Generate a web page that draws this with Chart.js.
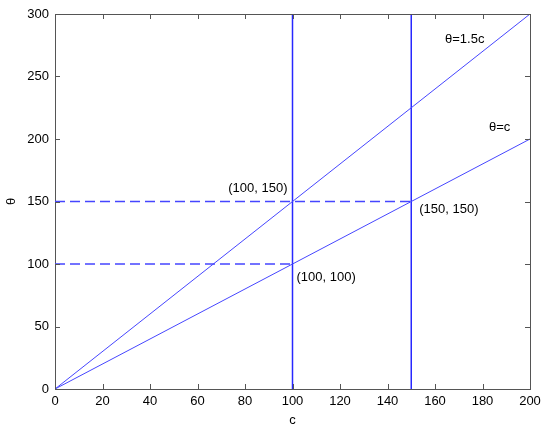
<!DOCTYPE html>
<html>
<head>
<meta charset="utf-8">
<script src="https://cdn.jsdelivr.net/npm/chart.js@4.4.0/dist/chart.umd.min.js"></script>
<style>
  body { margin: 0; background: #fff; }
  #wrap { width: 550px; height: 430px; }
</style>
</head>
<body>
<div id="wrap"><canvas id="myChart"></canvas></div>
<script>
// values
var cEnds = [0, 200];
var thetaEqC = [0, 200];
var thetaEq15C = [0, 300];
var verticalC = [100, 150];
var verticalRange = [0, 300];
var dashedTheta = [100, 150];
var dashedEnd = [100, 150];
var xTicks = [0, 20, 40, 60, 80, 100, 120, 140, 160, 180, 200];
var yTicks = [0, 50, 100, 150, 200, 250, 300];

// text labels: [text, c, theta, dx, dy, align]
var notes = [
    ['(100, 150)', 100, 150, -5, -13, 'right'],
    ['(100, 100)', 100, 100, 4, 13, 'left'],
    ['(150, 150)', 150, 150, 8, 8, 'left'],
    ['\u03b8=1.5c', 200, 300, -85, 25, 'left'],
    ['\u03b8=c', 200, 200, -41, -12, 'left']
];

var lineBlue = 'rgb(70, 70, 255)';
var vertBlue = 'rgb(40, 40, 255)';
var font = { family: 'Arial, "Liberation Sans", sans-serif', size: 13 };

function pts(xs, ys) {
    var out = [];
    for (var i = 0; i < xs.length; i++) out.push({ x: xs[i], y: ys[i] });
    return out;
}

var datasets = [
    { data: pts(cEnds, thetaEq15C), borderColor: lineBlue, borderWidth: 1 },
    { data: pts(cEnds, thetaEqC), borderColor: lineBlue, borderWidth: 1 }
];
for (var i = 0; i < verticalC.length; i++) {
    datasets.push({
        data: pts([verticalC[i], verticalC[i]], verticalRange),
        borderColor: vertBlue, borderWidth: 1.5
    });
}
for (var j = 0; j < dashedTheta.length; j++) {
    datasets.push({
        data: pts([0, dashedEnd[j]], [dashedTheta[j], dashedTheta[j]]),
        borderColor: lineBlue, borderWidth: 1.3, borderDash: [10, 5]
    });
}
datasets.forEach(function (d) {
    d.showLine = true;
    d.pointRadius = 0;
    d.fill = false;
});

// MATLAB style box with inward ticks, plus the text notes
var boxPlugin = {
    id: 'box',
    afterDraw: function (chart) {
        var ctx = chart.ctx;
        var a = chart.chartArea;
        var xs = chart.scales.x, ys = chart.scales.y;
        ctx.save();
        ctx.strokeStyle = '#555';
        ctx.lineWidth = 1;
        ctx.beginPath();
        ctx.moveTo(a.left, a.top + 0.5);
        ctx.lineTo(a.right + 0.5, a.top + 0.5);
        ctx.lineTo(a.right + 0.5, a.bottom);
        ctx.stroke();
        ctx.beginPath();
        xTicks.forEach(function (v) {
            var px = Math.round(xs.getPixelForValue(v)) + 0.5;
            ctx.moveTo(px, a.bottom); ctx.lineTo(px, a.bottom - 5);
            ctx.moveTo(px, a.top); ctx.lineTo(px, a.top + 5);
        });
        yTicks.forEach(function (v) {
            var py = Math.round(ys.getPixelForValue(v)) + 0.5;
            ctx.moveTo(a.left, py); ctx.lineTo(a.left + 5, py);
            ctx.moveTo(a.right, py); ctx.lineTo(a.right - 5, py);
        });
        ctx.stroke();

        ctx.fillStyle = '#000';
        ctx.font = font.size + 'px ' + font.family;
        ctx.textBaseline = 'middle';
        notes.forEach(function (n) {
            ctx.textAlign = n[5];
            ctx.fillText(n[0], xs.getPixelForValue(n[1]) + n[3], ys.getPixelForValue(n[2]) + n[4]);
        });
        ctx.restore();
    }
};

var myChart = new Chart(document.getElementById('myChart'), {
    type: 'scatter',
    data: { datasets: datasets },
    plugins: [boxPlugin],
    options: {
        responsive: true,
        maintainAspectRatio: false,
        animation: false,
        layout: { padding: { top: 14, right: 20, left: 0, bottom: 0 } },
        plugins: { legend: { display: false }, tooltip: { enabled: false } },
        scales: {
            x: {
                type: 'linear', min: 0, max: 200,
                afterBuildTicks: function (s) { s.ticks = xTicks.map(function (v) { return { value: v }; }); },
                afterFit: function (s) { s.height = 41; },
                grid: { display: false, drawTicks: false },
                border: { display: true, color: '#555', width: 1 },
                ticks: { color: '#000', font: font, padding: 5, maxRotation: 0 },
                title: { display: true, text: 'c', color: '#000', font: font, padding: { top: 2, bottom: 2 } }
            },
            y: {
                type: 'linear', min: 0, max: 300,
                afterBuildTicks: function (s) { s.ticks = yTicks.map(function (v) { return { value: v }; }); },
                afterFit: function (s) { s.width = 55; },
                grid: { display: false, drawTicks: false },
                border: { display: true, color: '#555', width: 1 },
                ticks: { color: '#000', font: font, padding: 6 },
                title: { display: true, text: '\u03b8', color: '#000', font: font, padding: { top: 4, bottom: 0 } }
            }
        }
    }
});
</script>
</body>
</html>
